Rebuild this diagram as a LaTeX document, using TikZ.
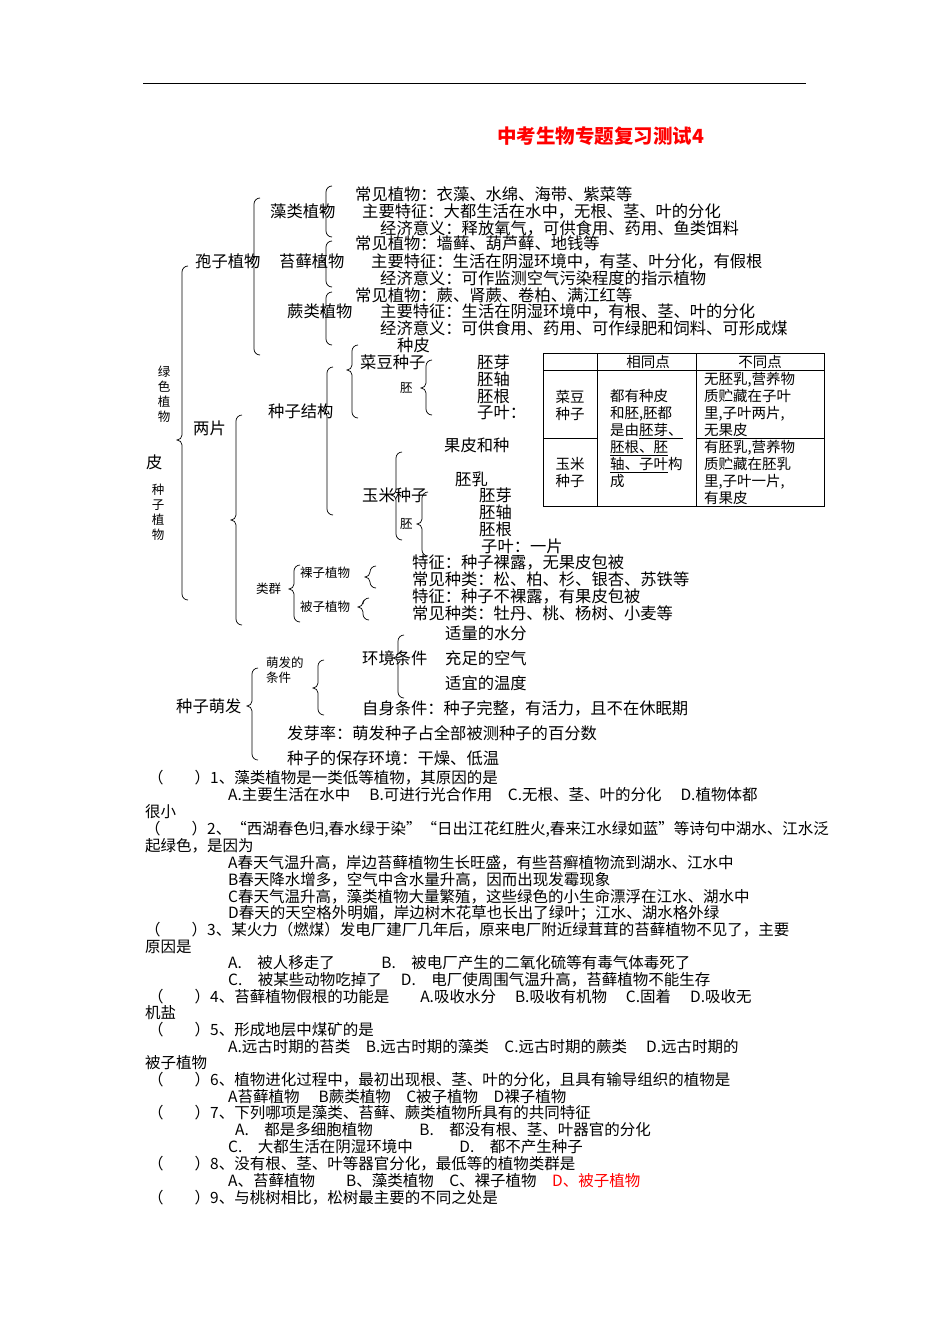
\documentclass[tikz,border=0pt]{standalone}
\usepackage{fontspec}
\newfontfamily\cjk{Noto Sans CJK SC}
\tikzset{
 t/.style={anchor=west,inner sep=0pt,font=\cjk\fontsize{16.3}{16.3}\selectfont},
 tq/.style={anchor=west,inner sep=0pt,font=\cjk\fontsize{15.5}{15.5}\selectfont},
 ts/.style={anchor=west,inner sep=0pt,font=\cjk\fontsize{12.5}{12.5}\selectfont},
 tb/.style={anchor=west,inner sep=0pt,font=\cjk\fontsize{14.5}{17}\selectfont,align=left},
 br/.style={line width=0.7pt}
}
\newcommand\brc[4]{\draw[br] ({#1+6},{-#2}) to[out=180,in=90] (#1,{-#2-6}) -- (#1,{-#3+5}) to[out=-90,in=0] ({#1-5},{-#3}) to[out=0,in=90] (#1,{-#3-5}) -- (#1,{-#4+6}) to[out=-90,in=180] ({#1+6},{-#4});}
\begin{document}
\begin{tikzpicture}[x=1pt,y=1pt]
\useasboundingbox (0,0) rectangle (950,-1344);
\draw[line width=0.8pt] (143,-83) -- (806,-83);
\node[anchor=west,inner sep=0,text=red,font=\cjk\bfseries\fontsize{19.5}{19.5}\selectfont] (title) at (497,-136) {中考生物专题复习测试4};
% spore plants
\node[t] (zl) at (270,-211) {藻类植物};
\node[t] at (355,-194) {常见植物：衣藻、水绵、海带、紫菜等};
\node[t] at (362,-211) {主要特征：大都生活在水中，无根、茎、叶的分化};
\node[t] at (380,-228) {经济意义：释放氧气，可供食用、药用、鱼类饵料};
\brc{326}{186}{211}{237}
\node[t] (bz) at (195,-261) {孢子植物};
\node[t] (tx) at (279,-261) {苔藓植物};
\node[t] at (355,-243) {常见植物：墙藓、葫芦藓、地钱等};
\node[t] at (371,-261) {主要特征：生活在阴湿环境中，有茎、叶分化，有假根};
\node[t] at (380,-278) {经济意义：可作监测空气污染程度的指示植物};
\brc{326}{241}{261}{287}
\node[t] (jl) at (287,-311) {蕨类植物};
\node[t] at (355,-295) {常见植物：蕨、肾蕨、卷柏、满江红等};
\node[t] at (380,-311) {主要特征：生活在阴湿环境中，有根、茎、叶的分化};
\node[t] at (380,-328) {经济意义：可供食用、药用、可作绿肥和饲料、可形成煤};
\brc{326}{292}{311}{345}
\brc{254}{198}{261}{355}
% left labels
\node[ts,align=center,anchor=center,font=\cjk\fontsize{12.5}{15}\selectfont] (lszw) at (164,-394) {绿\\色\\植\\物};
\node[t] (pi) at (146,-462) {皮};
\node[ts,align=center,anchor=center,font=\cjk\fontsize{12.5}{15}\selectfont] (zzzw) at (158,-512) {种\\子\\植\\物};
\brc{182}{266}{440}{600}
\node[t] (lp) at (193,-428) {两片};
\node[t] (zzjg) at (268,-411) {种子结构};
\node[t] at (397,-345) {种皮};
\node[t] (cd) at (360,-362) {菜豆种子};
\brc{352}{345}{370}{418}
\node[ts] at (400,-388) {胚};
\brc{426}{360}{388}{415}
\node[t] at (477,-362) {胚芽};
\node[t] at (477,-379) {胚轴};
\node[t] at (477,-396) {胚根};
\node[t] at (477,-412) {子叶：};
\brc{327}{367}{411}{515}
\node[t] at (444,-445) {果皮和种};
\node[t] at (455,-479) {胚乳};
\node[t] (ym) at (362,-495) {玉米种子};
\brc{396}{452}{495}{540}
\node[ts] at (400,-524) {胚};
\brc{422}{492}{524}{556}
\node[t] at (479,-495) {胚芽};
\node[t] at (479,-512) {胚轴};
\node[t] at (479,-529) {胚根};
\node[t] at (481,-546) {子叶：一片};
\brc{236}{415}{520}{625}
\node[ts] (lq) at (256,-589) {类群};
\brc{294}{565}{589}{622}
\node[ts] (lz) at (300,-573) {裸子植物};
\brc{370}{566}{577}{588}
\node[ts] (bzz) at (300,-607) {被子植物};
\brc{363}{598}{607}{620}
\node[t] at (412,-562) {特征：种子裸露，无果皮包被};
\node[t] at (412,-579) {常见种类：松、柏、杉、银杏、苏铁等};
\node[t] at (412,-596) {特征：种子不裸露，有果皮包被};
\node[t] at (412,-613) {常见种类：牡丹、桃、杨树、小麦等};
% germination
\node[t] at (445,-633) {适量的水分};
\node[t] (hj) at (362,-658) {环境条件};
\node[t] at (445,-658) {充足的空气};
\node[t] at (445,-683) {适宜的温度};
\brc{398}{635}{658}{698}
\node[ts,align=left,font=\cjk\fontsize{12.5}{15}\selectfont] (mf) at (266,-670) {萌发的\\条件};
\brc{318}{660}{688}{715}
\node[t] at (362,-708) {自身条件：种子完整，有活力，且不在休眠期};
\node[t] (zzmf) at (176,-706) {种子萌发};
\brc{252}{668}{706}{760}
\node[t] at (287,-733) {发芽率：萌发种子占全部被测种子的百分数};
\node[t] at (287,-758) {种子的保存环境：干燥、低温};
% table
\draw[line width=0.7pt] (543,-353) rectangle (824,-506);
\draw[line width=0.7pt] (597,-353) -- (597,-506) (696,-353) -- (696,-506);
\draw[line width=0.7pt] (543,-370) -- (824,-370);
\draw[line width=0.7pt] (543,-438) -- (597,-438) (696,-438) -- (824,-438);
\node[tb,anchor=center] at (648,-362) {相同点};
\node[tb,anchor=center] at (760,-362) {不同点};
\node[tb,align=center,anchor=center] at (570,-405) {菜豆\\种子};
\node[tb,align=center,anchor=center] at (570,-472) {玉米\\种子};
\node[tb,anchor=north west] at (610,-389) {都有种皮\\和胚,胚都\\是由\underline{胚芽、}\\\underline{胚根、胚}\\\underline{轴、子叶}构\\成};
\node[tb,anchor=north west] at (704,-372) {无胚乳,营养物\\质贮藏在子叶\\里,子叶两片,\\无果皮\\有胚乳,营养物\\质贮藏在胚乳\\里,子叶一片,\\有果皮};
% questions
\node[tq] at (148,-778) {（　　）1、藻类植物是一类低等植物，其原因的是};
\node[tq] at (228,-795) {A.主要生活在水中　 B.可进行光合作用　C.无根、茎、叶的分化　 D.植物体都};
\node[tq] at (145,-812) {很小};
\node[tq] at (145,-829) {（　　）2、“西湖春色归,春水绿于染”“日出江花红胜火,春来江水绿如蓝”等诗句中湖水、江水泛};
\node[tq] at (145,-846) {起绿色，是因为};
\node[tq] at (228,-863) {A春天气温升高，岸边苔藓植物生长旺盛，有些苔癣植物流到湖水、江水中};
\node[tq] at (228,-880) {B春天降水增多，空气中含水量升高，因而出现发霉现象};
\node[tq] at (228,-897) {C春天气温升高，藻类植物大量繁殖，这些绿色的小生命漂浮在江水、湖水中};
\node[tq] at (228,-913) {D春天的天空格外明媚，岸边树木花草也长出了绿叶；江水、湖水格外绿};
\node[tq] at (145,-930) {（　　）3、某火力（燃煤）发电厂建厂几年后，原来电厂附近绿茸茸的苔藓植物不见了，主要};
\node[tq] at (145,-947) {原因是};
\node[tq] at (228,-963) {A.　被人移走了　　　B.　被电厂产生的二氧化硫等有毒气体毒死了};
\node[tq] at (228,-980) {C.　被某些动物吃掉了　 D.　电厂使周围气温升高，苔藓植物不能生存};
\node[tq] at (148,-997) {（　　）4、苔藓植物假根的功能是　　A.吸收水分　 B.吸收有机物　 C.固着　 D.吸收无};
\node[tq] at (145,-1013) {机盐};
\node[tq] at (148,-1030) {（　　）5、形成地层中煤矿的是};
\node[tq] at (228,-1047) {A.远古时期的苔类　B.远古时期的藻类　C.远古时期的蕨类　 D.远古时期的};
\node[tq] at (145,-1063) {被子植物};
\node[tq] at (148,-1080) {（　　）6、植物进化过程中，最初出现根、茎、叶的分化，且具有输导组织的植物是};
\node[tq] at (228,-1097) {A苔藓植物　 B蕨类植物　C被子植物　D裸子植物};
\node[tq] at (148,-1113) {（　　）7、下列哪项是藻类、苔藓、蕨类植物所具有的共同特征};
\node[tq] at (235,-1130) {A.　都是多细胞植物　　　B.　都没有根、茎、叶器官的分化};
\node[tq] at (228,-1147) {C.　大都生活在阴湿环境中　　　D.　都不产生种子};
\node[tq] at (148,-1164) {（　　）8、没有根、茎、叶等器官分化，最低等的植物类群是};
\node[tq] at (228,-1181) {A、苔藓植物　　B、藻类植物　C、裸子植物　\textcolor{red}{D、被子植物}};
\node[tq] at (148,-1198) {（　　）9、与桃树相比，松树最主要的不同之处是};
\end{tikzpicture}
\end{document}
